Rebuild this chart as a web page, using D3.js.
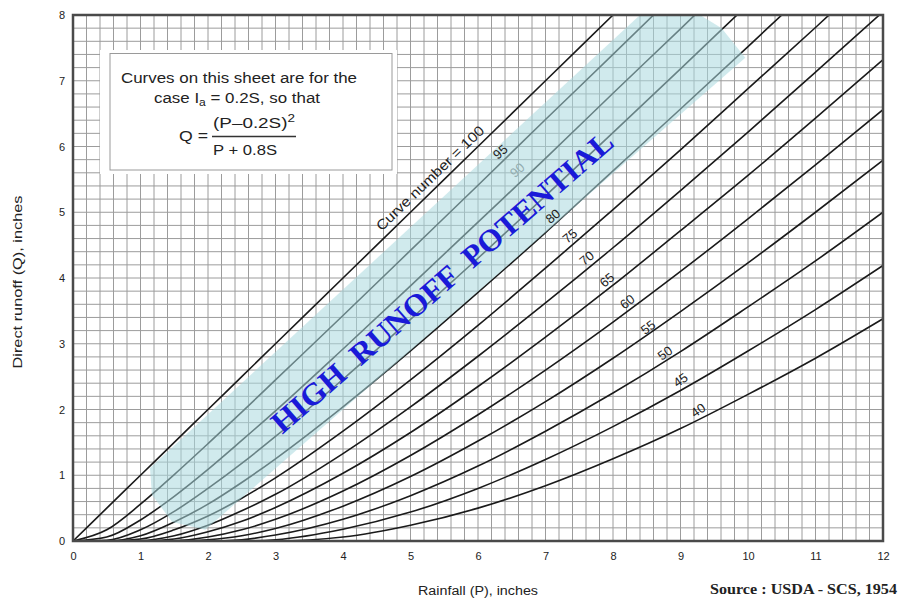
<!DOCTYPE html>
<html>
<head>
<meta charset="utf-8">
<script src="https://cdn.jsdelivr.net/npm/d3@7"></script>
<style>
  body { margin: 0; background: #fff; }
  svg { display: block; }
</style>
</head>
<body>
<script>
(function (d3) {
  "use strict";

  /***** Data *****/
  var rainfall = [0, 0.5, 1, 1.5, 2, 2.5, 3, 4, 5, 6, 7, 8, 9, 10, 11, 12];
  var curveNumbers = [100, 95, 90, 85, 80, 75, 70, 65, 60, 55, 50, 45, 40];

  var runoffCN100 = [0, 0.5, 1, 1.5, 2, 2.5, 3, 4, 5, 6, 7, 8, 9, 10, 11, 12];
  var runoffCN95 = [0, 0.17, 0.56, 1.01, 1.48, 1.96, 2.45, 3.43, 4.42, 5.41, 6.41, 7.40, 8.40, 9.40, 10.39, 11.39];
  var runoffCN90 = [0, 0.06, 0.32, 0.68, 1.09, 1.53, 1.98, 2.92, 3.88, 4.85, 5.82, 6.81, 7.79, 8.78, 9.77, 10.76];
  var runoffCN85 = [0, 0.01, 0.17, 0.45, 0.80, 1.18, 1.59, 2.46, 3.37, 4.30, 5.25, 6.21, 7.18, 8.16, 9.13, 10.12];
  var runoffCN80 = [0, 0, 0.08, 0.29, 0.56, 0.89, 1.25, 2.04, 2.89, 3.78, 4.69, 5.63, 6.57, 7.52, 8.48, 9.45];
  var runoffCN75 = [0, 0, 0.03, 0.17, 0.38, 0.65, 0.96, 1.67, 2.45, 3.28, 4.15, 5.04, 5.95, 6.88, 7.81, 8.76];
  var runoffCN70 = [0, 0, 0.005, 0.08, 0.24, 0.46, 0.71, 1.33, 2.04, 2.81, 3.62, 4.46, 5.33, 6.22, 7.13, 8.05];
  var runoffCN65 = [0, 0, 0, 0.03, 0.14, 0.30, 0.51, 1.03, 1.65, 2.35, 3.10, 3.89, 4.72, 5.56, 6.43, 7.32];
  var runoffCN60 = [0, 0, 0, 0.004, 0.06, 0.17, 0.33, 0.76, 1.30, 1.92, 2.60, 3.33, 4.10, 4.90, 5.72, 6.56];
  var runoffCN55 = [0, 0, 0, 0, 0.02, 0.08, 0.19, 0.53, 0.98, 1.52, 2.12, 2.78, 3.49, 4.23, 5.00, 5.79];
  var runoffCN50 = [0, 0, 0, 0, 0, 0.02, 0.09, 0.33, 0.69, 1.14, 1.67, 2.25, 2.88, 3.56, 4.26, 5.00];
  var runoffCN45 = [0, 0, 0, 0, 0, 0, 0.02, 0.18, 0.44, 0.80, 1.24, 1.74, 2.29, 2.89, 3.52, 4.19];
  var runoffCN40 = [0, 0, 0, 0, 0, 0, 0, 0.06, 0.24, 0.50, 0.84, 1.25, 1.71, 2.23, 2.78, 3.38];

  var runoffSeries = [runoffCN100, runoffCN95, runoffCN90, runoffCN85, runoffCN80, runoffCN75,
    runoffCN70, runoffCN65, runoffCN60, runoffCN55, runoffCN50, runoffCN45, runoffCN40];

  var xTickValues = [0, 1, 2, 3, 4, 5, 6, 7, 8, 9, 10, 11, 12];
  var yTickValues = [0, 1, 2, 3, 4, 5, 6, 7, 8];

  var curveLabelText = ["Curve number = 100", "95", "90", "80", "75", "70", "65", "60", "55", "50", "45", "40"];

  /***** Annotation placement (data units) *****/
  var curveLabelAt = [[5.29, 5.52], [6.33, 5.92], [6.58, 5.64], [7.11, 4.94], [7.36, 4.64], [7.61, 4.30],
    [7.91, 3.97], [8.21, 3.64], [8.52, 3.25], [8.77, 2.86], [9.0, 2.45], [9.26, 1.99]];
  var curveLabelAngle = [-44, -41, -41, -40, -40, -39, -39, -37, -37, -36, -35, -35];
  var bandOutline = [[1.14, 1.11], [8.40, 8.0], [9.29, 8.0], [9.61, 7.80], [9.96, 7.35],
    [1.96, 0.17], [1.47, 0.29], [1.17, 0.70]];

  /***** Configuration *****/
  var svgWidth = 899, svgHeight = 602;
  var margin = { top: 15, right: 16, bottom: 61, left: 73 };
  var plotWidth = svgWidth - margin.left - margin.right;
  var plotHeight = svgHeight - margin.top - margin.bottom;
  var sans = "'Liberation Sans', Arial, sans-serif";
  var serif = "'Liberation Serif', 'Times New Roman', serif";

  /***** Scales *****/
  var x = d3.scaleLinear().domain([0, 12]).range([0, plotWidth]);
  var y = d3.scaleLinear().domain([0, 8]).range([plotHeight, 0]);

  var svg = d3.select("body").append("svg")
    .attr("width", svgWidth)
    .attr("height", svgHeight);

  svg.append("defs").append("clipPath").attr("id", "plotClip")
    .append("rect").attr("width", plotWidth).attr("height", plotHeight);

  var g = svg.append("g")
    .attr("transform", "translate(" + margin.left + "," + margin.top + ")");

  /***** Grid (0.2 inch) *****/
  var gridX = d3.range(0, 61).map(function (i) { return i / 5; });
  var gridY = d3.range(0, 41).map(function (i) { return i / 5; });

  var grid = g.append("g").attr("stroke", "#9c9c9c").attr("stroke-width", 1);
  grid.selectAll(".gx").data(gridX).enter().append("line")
    .attr("x1", function (d) { return x(d); }).attr("x2", function (d) { return x(d); })
    .attr("y1", 0).attr("y2", plotHeight);
  grid.selectAll(".gy").data(gridY).enter().append("line")
    .attr("y1", function (d) { return y(d); }).attr("y2", function (d) { return y(d); })
    .attr("x1", 0).attr("x2", plotWidth);

  /***** Note box *****/
  svg.append("rect").attr("x", 100).attr("y", 50).attr("width", 297).attr("height", 124).attr("fill", "#fff");
  svg.append("rect").attr("x", 110).attr("y", 53.5).attr("width", 282).attr("height", 116.5)
    .attr("fill", "#fff").attr("stroke", "#9a9a9a").attr("stroke-width", 1);

  var note = svg.append("g").attr("font-family", sans).attr("font-size", 14).attr("fill", "#222");
  note.append("text").attr("x", 239).attr("y", 83).attr("text-anchor", "middle")
    .attr("textLength", 236).attr("lengthAdjust", "spacingAndGlyphs")
    .text("Curves on this sheet are for the");
  var line2 = note.append("text").attr("x", 237).attr("y", 103).attr("text-anchor", "middle")
    .attr("textLength", 166).attr("lengthAdjust", "spacingAndGlyphs");
  line2.append("tspan").text("case I");
  line2.append("tspan").attr("font-size", 10).attr("dy", 3).text("a");
  line2.append("tspan").attr("dy", -3).text(" = 0.2S, so that");
  note.append("text").attr("x", 208).attr("y", 141).attr("text-anchor", "end")
    .attr("textLength", 29).attr("lengthAdjust", "spacingAndGlyphs").text("Q =");
  var numer = note.append("text").attr("x", 254).attr("y", 128).attr("text-anchor", "middle")
    .attr("textLength", 82).attr("lengthAdjust", "spacingAndGlyphs");
  numer.append("tspan").text("(P\u20130.2S)");
  numer.append("tspan").attr("font-size", 10).attr("dy", -6).text("2");
  note.append("line").attr("x1", 212).attr("x2", 296).attr("y1", 136.5).attr("y2", 136.5)
    .attr("stroke", "#333").attr("stroke-width", 1.3);
  note.append("text").attr("x", 245).attr("y", 155).attr("text-anchor", "middle")
    .attr("textLength", 64).attr("lengthAdjust", "spacingAndGlyphs").text("P + 0.8S");

  /***** Curves *****/
  var line = d3.line()
    .x(function (d, i) { return x(rainfall[i]); })
    .y(function (d) { return y(d); })
    .curve(d3.curveMonotoneX);

  var curves = g.append("g").attr("clip-path", "url(#plotClip)");
  curves.selectAll("path").data(runoffSeries).enter().append("path")
    .attr("d", line)
    .attr("fill", "none")
    .attr("stroke", "#1a1a1a")
    .attr("stroke-width", 1.6);

  /***** Curve labels *****/
  function addLabel(parent, i, fill) {
    var p = curveLabelAt[i];
    var isLong = i === 0;
    var t = parent.append("text")
      .attr("transform", "translate(" + x(p[0]) + "," + y(p[1]) + ") rotate(" + curveLabelAngle[i] + ")")
      .attr("text-anchor", "middle")
      .attr("dy", "0.35em")
      .attr("font-family", sans)
      .attr("font-size", isLong ? 14 : 13)
      .attr("fill", fill)
      .text(curveLabelText[i]);
    if (isLong) t.attr("textLength", 144).attr("lengthAdjust", "spacingAndGlyphs");
  }
  var labelsUnder = g.append("g");
  addLabel(labelsUnder, 2, "#777");

  /***** High runoff band *****/
  g.append("path")
    .datum(bandOutline)
    .attr("clip-path", "url(#plotClip)")
    .attr("d", d3.line()
      .x(function (d) { return x(d[0]); })
      .y(function (d) { return y(d[1]); })
      .curve(d3.curveLinearClosed))
    .attr("fill", "#a9d9de")
    .attr("fill-opacity", 0.55);

  var labels = g.append("g");
  curveLabelText.forEach(function (txt, i) {
    if (i !== 2) addLabel(labels, i, "#222");
  });

  g.append("text")
    .attr("transform", "translate(" + x(5.57) + "," + y(3.82) + ") rotate(-41)")
    .attr("text-anchor", "middle")
    .attr("font-family", serif)
    .attr("font-weight", "bold")
    .attr("font-size", 31)
    .attr("fill", "#1a1ad8")
    .attr("textLength", 442)
    .attr("lengthAdjust", "spacingAndGlyphs")
    .style("white-space", "pre")
    .text("HIGH  RUNOFF  POTENTIAL");

  /***** Frame and axes *****/
  g.append("rect").attr("width", plotWidth).attr("height", plotHeight)
    .attr("fill", "none").attr("stroke", "#4a4a4a").attr("stroke-width", 2.5);

  var xAxis = d3.axisBottom(x).tickValues(xTickValues).tickSize(0).tickPadding(11);
  var yAxis = d3.axisLeft(y).tickValues(yTickValues).tickSize(0).tickPadding(8);

  var gx = g.append("g").attr("transform", "translate(0," + plotHeight + ")").call(xAxis);
  var gy = g.append("g").call(yAxis);
  [gx, gy].forEach(function (a) {
    a.select(".domain").remove();
    a.selectAll("text").attr("font-family", sans).attr("font-size", 11).attr("fill", "#222");
  });

  svg.append("text")
    .attr("x", 478).attr("y", 595)
    .attr("text-anchor", "middle")
    .attr("font-family", sans).attr("font-size", 12.5).attr("fill", "#222")
    .attr("textLength", 120).attr("lengthAdjust", "spacingAndGlyphs")
    .text("Rainfall (P), inches");

  svg.append("text")
    .attr("transform", "translate(22,282) rotate(-90)")
    .attr("text-anchor", "middle")
    .attr("font-family", sans).attr("font-size", 12.5).attr("fill", "#222")
    .attr("textLength", 173).attr("lengthAdjust", "spacingAndGlyphs")
    .text("Direct runoff (Q), inches");

  svg.append("text")
    .attr("x", 897).attr("y", 594)
    .attr("text-anchor", "end")
    .attr("font-family", serif).attr("font-weight", "bold").attr("font-size", 15).attr("fill", "#222")
    .attr("textLength", 187).attr("lengthAdjust", "spacingAndGlyphs")
    .text("Source : USDA - SCS, 1954");

})(d3);
</script>
</body>
</html>
